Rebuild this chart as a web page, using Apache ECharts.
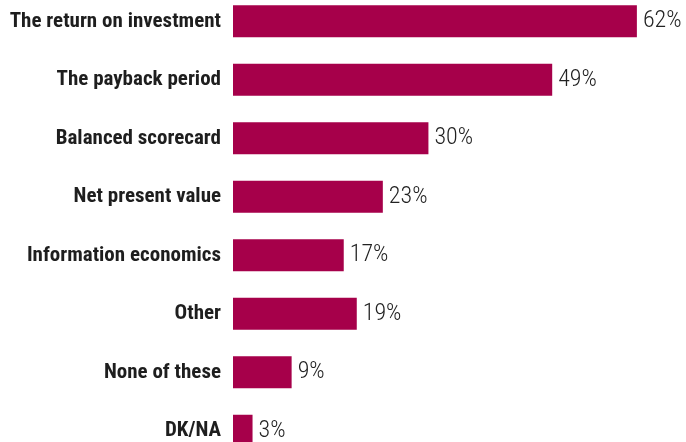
<!DOCTYPE html>
<html>
<head>
<meta charset="utf-8">
<script src="https://cdn.jsdelivr.net/npm/echarts@6/dist/echarts.min.js"></script>
<style>
  html, body { margin: 0; padding: 0; background: #fff; }
  #chart { width: 686px; height: 442px; }
</style>
</head>
<body>
<div id="chart"></div>
<script>
// Methods used to evaluate IT investments (share of respondents, %)
const categories = [
  'The return on investment',
  'The payback period',
  'Balanced scorecard',
  'Net present value',
  'Information economics',
  'Other',
  'None of these',
  'DK/NA'
];
const values = [62, 49, 30, 23, 17, 19, 9, 3];

const chart = echarts.init(document.getElementById('chart'), null, { renderer: 'canvas' });
chart.setOption({
  animation: false,
  grid: {
    left: 233, top: -8, bottom: -18, width: 456,
    containLabel: false, outerBoundsMode: 'none'
  },
  xAxis: {
    type: 'value', min: 0, max: 70, show: false
  },
  yAxis: {
    type: 'category',
    data: categories,
    inverse: true,
    axisLine: { show: false },
    axisTick: { show: false },
    splitLine: { show: false },
    axisLabel: {
      margin: 12,
      color: '#1e1e1e',
      fontFamily: '"Roboto Condensed", "Liberation Sans", sans-serif',
      fontWeight: 'bold',
      fontSize: 21
    }
  },
  series: [{
    type: 'bar',
    data: values,
    barWidth: 32,
    itemStyle: { color: '#A6004A' },
    label: {
      show: true,
      position: 'right',
      distance: 6,
      formatter: '{c}%',
      color: '#222',
      fontFamily: '"Roboto Condensed", "Liberation Sans", sans-serif',
      fontWeight: 300,
      fontSize: 24
    }
  }]
});
</script>
</body>
</html>
